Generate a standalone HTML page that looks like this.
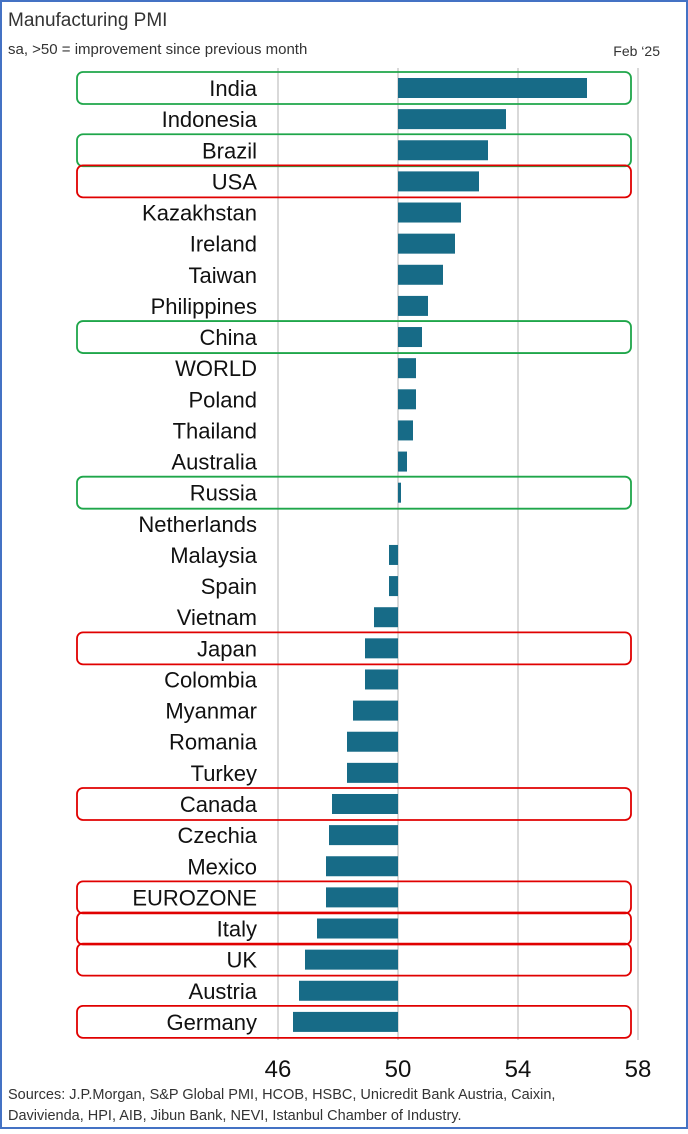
<!DOCTYPE html>
<html><head><meta charset="utf-8">
<style>
html,body{margin:0;padding:0;background:#fff;}
body{width:688px;height:1129px;overflow:hidden;font-family:"Liberation Sans",sans-serif;}
</style></head>
<body>
<svg id="chart" width="688" height="1129" xmlns="http://www.w3.org/2000/svg">
<rect x="1" y="1" width="686" height="1127" fill="#fff" stroke="#4472c4" stroke-width="2"/>
<text x="8" y="26" font-size="19" fill="#333">Manufacturing PMI</text>
<text x="8" y="54" font-size="15" fill="#333">sa, &gt;50 = improvement since previous month</text>
<text x="660" y="56" font-size="14" fill="#333" text-anchor="end">Feb ‘25</text>
<g id="grid"></g><g id="boxes"></g><g id="bars"></g><g id="labels"></g><g id="ticks"></g>
<text x="8" y="1099" font-size="14.5" fill="#333">Sources: J.P.Morgan, S&amp;P Global PMI, HCOB, HSBC, Unicredit Bank Austria, Caixin,</text>
<text x="8" y="1120" font-size="14.5" fill="#333">Davivienda, HPI, AIB, Jibun Bank, NEVI, Istanbul Chamber of Industry.</text>
</svg>
<script>
const countries=["India","Indonesia","Brazil","USA","Kazakhstan","Ireland","Taiwan","Philippines","China","WORLD","Poland","Thailand","Australia","Russia","Netherlands","Malaysia","Spain","Vietnam","Japan","Colombia","Myanmar","Romania","Turkey","Canada","Czechia","Mexico","EUROZONE","Italy","UK","Austria","Germany"];
const pmiValues=[56.3,53.6,53.0,52.7,52.1,51.9,51.5,51.0,50.8,50.6,50.6,50.5,50.3,50.1,50.0,49.7,49.7,49.2,48.9,48.9,48.5,48.3,48.3,47.8,47.7,47.6,47.6,47.3,46.9,46.7,46.5];
const highlightGreen=["India","Brazil","China","Russia"];
const highlightRed=["USA","Japan","Canada","EUROZONE","Italy","UK","Germany"];
const tickValues=[46,50,54,58];
const NS="http://www.w3.org/2000/svg";
function xScale(v){return 398+(v-50)*30;}
function yScale(i){return 88+i*31.13;}
function mk(tag,attrs,parent){const e=document.createElementNS(NS,tag);for(const k in attrs)e.setAttribute(k,attrs[k]);document.getElementById(parent).appendChild(e);return e;}
tickValues.forEach(t=>{
 const l=mk('line',{x1:xScale(t),x2:xScale(t),y1:68,y2:1040,stroke:'#d9d9d9','stroke-width':2},'grid');
 
 
 const tx=mk('text',{x:xScale(t),y:1077,'font-size':24,'text-anchor':'middle',fill:'#111'},'ticks');
 tx.textContent=t;
 
 
});
countries.forEach((c,i)=>{
 const y=yScale(i);const v=pmiValues[i];
 const g=highlightGreen.includes(c),r=highlightRed.includes(c);
 if(g||r){
  const b=mk('rect',{x:77,y:y-16,width:554,height:32,rx:6,fill:'none',stroke:g?'#1fa64a':'#e00000','stroke-width':1.8},'boxes');
  
  
 }
 if(v!==50){
  const x0=Math.min(xScale(v),xScale(50)),w=Math.abs(xScale(v)-xScale(50));
  const bar=mk('rect',{x:x0,y:y-10,width:w,height:20,fill:'#176b87'},'bars');
  
  
 }
 const t=mk('text',{x:257,y:y+8,'font-size':22,'text-anchor':'end',fill:'#111'},'labels');
 t.textContent=c;
 
 
});
</script>
</body></html>
